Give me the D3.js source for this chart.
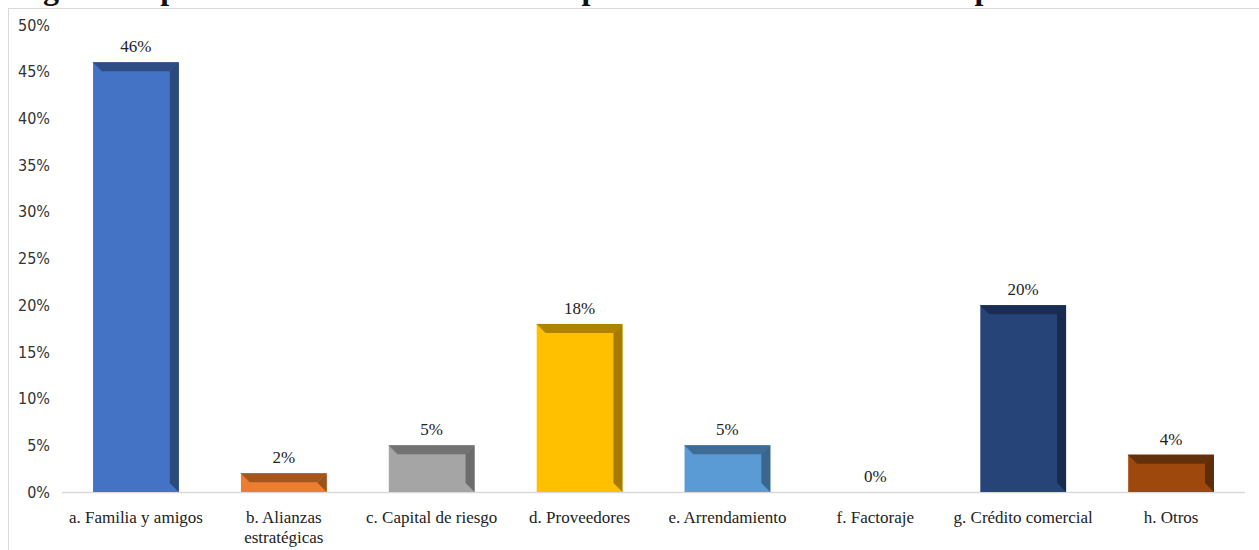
<!DOCTYPE html>
<html>
<head>
<meta charset="utf-8">
<script src="https://cdn.jsdelivr.net/npm/d3@7"></script>
<style>
  body { margin: 0; background: #fff; overflow: hidden; }
  .ytick { font-family: 'Liberation Sans Narrow', 'DejaVu Sans Condensed', sans-serif; font-size: 16px; fill: #333; }
  .cat, .val { font-family: 'Liberation Serif', 'Times New Roman', serif; font-size: 17px; fill: #222; }
  .title { font-family: 'Liberation Serif', 'Times New Roman', serif; font-size: 32px; font-weight: bold; fill: #111; }
</style>
</head>
<body>
<div id="chart"></div>
<script>
// chart data
let categories = ['a. Familia y amigos', 'b. Alianzas estratégicas', 'c. Capital de riesgo', 'd. Proveedores',
    'e. Arrendamiento', 'f. Factoraje', 'g. Crédito comercial', 'h. Otros']
let values = [46, 2, 5, 18, 5, 0, 20, 4]
let faceColors = ['#4472C4', '#ED7D31', '#A5A5A5', '#FFC000', '#5B9BD5', '#70AD47', '#264478', '#9E480E']
let bevelColors = ['#2E4D85', '#A4561F', '#727272', '#AE8300', '#3E6C95', '#4E7831', '#182D51', '#62300A']
let yTicks = [0, 5, 10, 15, 20, 25, 30, 35, 40, 45, 50]

let svgWidth = 1259
let svgHeight = 550

let svg = d3.select('#chart')
    .append('svg')
    .attr('width', svgWidth)
    .attr('height', svgHeight)

// title of the figure, only its lowest part is inside the page
svg.append('text')
    .attr('class', 'title')
    .attr('x', -12)
    .attr('y', -1)
    .text('Imagen 5. Tipo de financiamiento utilizado para el inicio de la actividad por UGV')

// chart frame
svg.append('rect')
    .attr('x', 8.5)
    .attr('y', 8.5)
    .attr('width', 1300)
    .attr('height', 600)
    .attr('fill', 'none')
    .attr('stroke', '#d9d9d9')

let x = d3.scaleBand()
    .domain(categories)
    .range([62, 1245])
    .paddingInner(0.42)
    .paddingOuter(0.21)

let y = d3.scaleLinear()
    .domain([0, 50])
    .range([492, 25])

// y axis labels only, no line
let yAxis = svg.append('g')
    .attr('transform', 'translate(50, 0)')
    .call(d3.axisLeft(y).tickValues(yTicks).tickSize(0).tickPadding(0).tickFormat(d => d + '%'))
yAxis.select('.domain').remove()
yAxis.selectAll('text').attr('class', 'ytick').attr('fill', null).attr('font-family', null).attr('font-size', null)

// baseline
svg.append('line')
    .attr('x1', 62)
    .attr('x2', 1245)
    .attr('y1', y(0) + 0.5)
    .attr('y2', y(0) + 0.5)
    .attr('stroke', '#d9d9d9')
    .attr('stroke-width', 1.5)

let bev = 9
let bars = svg.selectAll('g.bar')
    .data(categories)
    .enter()
    .append('g')
    .attr('class', 'bar')

bars.each(function (d, i) {
    let g = d3.select(this)
    let v = values[i]
    if (v <= 0) return
    let x0 = x(d), x1 = x(d) + x.bandwidth()
    let y0 = y(v), y1 = y(0)
    let b = Math.min(bev, (y1 - y0) / 2)
    g.append('rect')
        .attr('x', x0).attr('y', y0)
        .attr('width', x1 - x0).attr('height', y1 - y0)
        .attr('fill', faceColors[i])
    // top bevel
    g.append('path')
        .attr('d', `M${x0},${y0}L${x1},${y0}L${x1 - b},${y0 + b}L${x0 + b},${y0 + b}Z`)
        .attr('fill', bevelColors[i])
    // right bevel
    g.append('path')
        .attr('d', `M${x1},${y0}L${x1},${y1}L${x1 - b},${y1 - b}L${x1 - b},${y0 + b}Z`)
        .attr('fill', d3.color(bevelColors[i]).darker(0.15))
    // left bevel edge
    g.append('path')
        .attr('d', `M${x0},${y0}L${x0 + b},${y0 + b}`)
        .attr('stroke', d3.color(bevelColors[i]).brighter(0.3))
        .attr('stroke-width', 0.8)
})

// value labels
svg.selectAll('text.val')
    .data(categories)
    .enter()
    .append('text')
    .attr('class', 'val')
    .attr('text-anchor', 'middle')
    .attr('x', d => x(d) + x.bandwidth() / 2)
    .attr('y', (d, i) => y(values[i]) - 10)
    .text((d, i) => values[i] + '%')

// category labels, wrapped when too long
svg.selectAll('text.cat')
    .data(categories)
    .enter()
    .append('text')
    .attr('class', 'cat')
    .attr('text-anchor', 'middle')
    .attr('y', 523)
    .each(function (d) {
        let lines = d === 'b. Alianzas estratégicas' ? ['b. Alianzas', 'estratégicas'] : [d]
        let t = d3.select(this)
        lines.forEach((l, k) => {
            t.append('tspan')
                .attr('x', x(d) + x.bandwidth() / 2)
                .attr('dy', k === 0 ? 0 : 20)
                .text(l)
        })
    })
</script>
</body>
</html>
